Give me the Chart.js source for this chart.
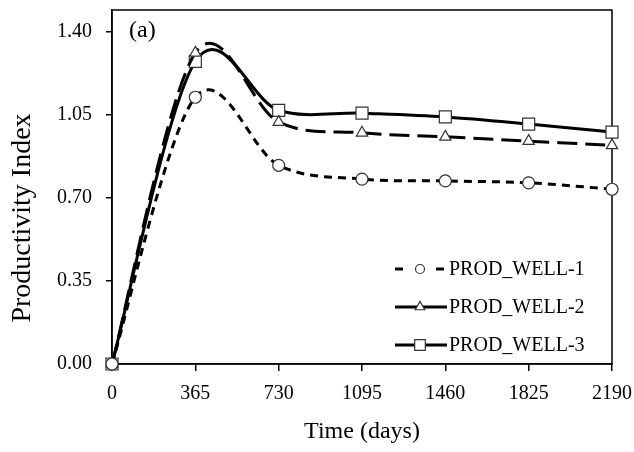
<!DOCTYPE html>
<html>
<head>
<meta charset="utf-8">
<script src="https://cdn.jsdelivr.net/npm/chart.js@4/dist/chart.umd.min.js"></script>
<style>
  html, body { margin: 0; padding: 0; background: #fff; }
  canvas { display: block; }
</style>
</head>
<body>
<canvas id="piChart" width="634" height="452"></canvas>
<script>
// Data
const days = [0, 365, 730, 1095, 1460, 1825, 2190];
const well1 = [0, 1.125, 0.838, 0.780, 0.772, 0.764, 0.737];
const well2 = [0, 1.312, 1.020, 0.975, 0.958, 0.940, 0.922];
const well3 = [0, 1.276, 1.070, 1.058, 1.042, 1.012, 0.978];
const wellNames = ['PROD_WELL-1', 'PROD_WELL-2', 'PROD_WELL-3'];
const xTicks = [0, 365, 730, 1095, 1460, 1825, 2190];
const yTicks = [0, 0.35, 0.70, 1.05, 1.40];

const FONT = "'Liberation Serif', 'Times New Roman', serif";

function toPoints(values) {
  return days.map((d, i) => ({ x: d, y: values[i] }));
}

//Box round the plot area
const frameBox = {
  id: 'frameBox',
  beforeDatasetsDraw(chart) {
    const a = chart.chartArea;
    const ctx = chart.ctx;
    ctx.save();
    ctx.strokeStyle = '#000';
    ctx.lineWidth = 1.5;
    ctx.strokeRect(a.left, a.top, a.right - a.left, a.bottom - a.top);
    ctx.restore();
  }
};

//Spreadsheet-style smoothing (Catmull-Rom, 1/6 of the neighbour chord)
const smoothLines = {
  id: 'smoothLines',
  beforeDatasetsDraw(chart) {
    chart.data.datasets.forEach((ds, i) => {
      const meta = chart.getDatasetMeta(i);
      const line = meta.dataset;
      const pts = meta.data;
      line.updateControlPoints(chart.chartArea, 'x');
      for (let k = 0; k < pts.length; k++) {
        const p = pts[k];
        const prev = pts[Math.max(k - 1, 0)];
        const next = pts[Math.min(k + 1, pts.length - 1)];
        const dx = (next.x - prev.x) / 6;
        const dy = (next.y - prev.y) / 6;
        p.cp1x = p.x - dx;
        p.cp1y = p.y - dy;
        p.cp2x = p.x + dx;
        p.cp2y = p.y + dy;
      }
    });
  }
};

//Y title, panel tag and the in-plot legend
const extras = {
  id: 'extras',
  afterDraw(chart) {
    const ctx = chart.ctx;
    ctx.save();
    ctx.fillStyle = '#000';

    // y axis title
    ctx.save();
    ctx.translate(23, 218);
    ctx.rotate(-Math.PI / 2);
    ctx.font = '28px ' + FONT;
    ctx.textAlign = 'center';
    ctx.textBaseline = 'middle';
    ctx.fillText('Productivity Index', 0, 0);
    ctx.restore();

    // panel tag
    ctx.font = '24px ' + FONT;
    ctx.textAlign = 'left';
    ctx.textBaseline = 'middle';
    ctx.fillText('(a)', 129, 31);

    // legend
    const rows = [269, 307, 345];
    chart.data.datasets.forEach((ds, i) => {
      const y = rows[i];
      ctx.save();
      ctx.strokeStyle = '#000';
      ctx.lineWidth = ds.borderWidth;
      ctx.setLineDash(ds.legendDash || []);
      ctx.beginPath();
      ctx.moveTo(395, y);
      ctx.lineTo(447, y);
      ctx.stroke();
      ctx.restore();

      ctx.save();
      ctx.fillStyle = '#fff';
      ctx.strokeStyle = ds.pointBorderColor;
      ctx.lineWidth = ds.pointBorderWidth;
      Chart.helpers.drawPoint(ctx, {
        pointStyle: ds.pointStyle,
        radius: ds.legendRadius,
        borderWidth: ds.pointBorderWidth,
        rotation: 0
      }, 420, y);
      ctx.restore();

      ctx.font = '20px ' + FONT;
      ctx.textAlign = 'left';
      ctx.textBaseline = 'middle';
      ctx.fillText(ds.label, 449, y + 1);
    });
    ctx.restore();
  }
};

function makeDataset(label, values, dash, style, radius, legendDash, legendRadius) {
  return {
    label: label,
    data: toPoints(values),
    borderColor: '#000',
    borderWidth: 3,
    borderDash: dash,
    legendDash: legendDash,
    legendRadius: legendRadius,
    tension: 0.4,
    pointStyle: style,
    pointRadius: radius,
    pointBackgroundColor: '#fff',
    pointBorderColor: '#333',
    pointBorderWidth: 1.2,
    clip: false
  };
}

function createChart() {
  const ctx = document.getElementById('piChart').getContext('2d');

  const chart = new Chart(ctx, {
    type: 'line',
    data: {
      datasets: [
        makeDataset(wellNames[0], well1, [8, 6], 'circle', 6, [8, 33], 4.5),
        makeDataset(wellNames[1], well2, [20, 8], 'triangle', 6.5, [], 5.5),
        makeDataset(wellNames[2], well3, [], 'rect', 8.5, [], 7.5)
      ]
    },
    options: {
      responsive: false,
      animation: false,
      devicePixelRatio: 1,
      layout: { padding: { top: 10, right: 22, left: 0, bottom: 0 } },
      plugins: {
        legend: { display: false },
        tooltip: { enabled: false }
      },
      scales: {
        x: {
          type: 'linear',
          min: 0,
          max: 2190,
          afterBuildTicks: (axis) => { axis.ticks = xTicks.map(v => ({ value: v })); },
          afterFit: (scale) => {
            scale.height = 88;
            scale.paddingLeft = 0;
            scale.paddingRight = 0;
          },
          ticks: {
            autoSkip: false,
            maxRotation: 0,
            color: '#000',
            padding: 11,
            font: { family: FONT, size: 20 },
            callback: (v) => String(v)
          },
          grid: { drawOnChartArea: false, color: '#000', lineWidth: 1.5, tickLength: 7 },
          border: { color: '#000', width: 1.5 },
          title: {
            display: true,
            text: 'Time (days)',
            color: '#000',
            font: { family: FONT, size: 24 },
            padding: { top: 0, bottom: 6 }
          }
        },
        y: {
          min: 0,
          max: 1.493,
          afterBuildTicks: (axis) => { axis.ticks = yTicks.map(v => ({ value: v })); },
          afterFit: (scale) => {
            scale.width = 112;
            scale.paddingTop = 0;
            scale.paddingBottom = 0;
          },
          ticks: {
            color: '#000',
            padding: 14,
            font: { family: FONT, size: 20 },
            callback: (v) => v.toFixed(2)
          },
          grid: { drawOnChartArea: false, color: '#000', lineWidth: 1.5, tickLength: 6 },
          border: { color: '#000', width: 1.5 }
        }
      }
    },
    plugins: [frameBox, smoothLines, extras]
  });

  return chart;
}

createChart();
</script>
</body>
</html>
